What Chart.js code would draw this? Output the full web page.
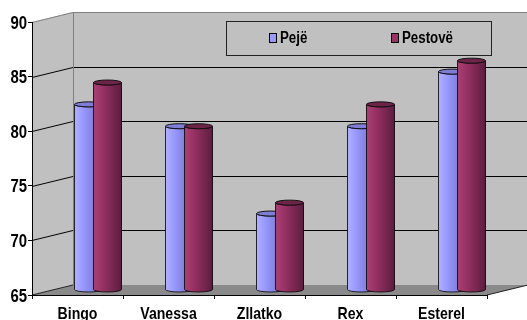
<!DOCTYPE html>
<html>
<head>
<meta charset="utf-8">
<script src="https://cdn.jsdelivr.net/npm/chart.js@4"></script>
<style>
  html, body { margin: 0; padding: 0; background: #fff; }
  #wrap { width: 527px; height: 320px; }
</style>
</head>
<body>
<div id="wrap"><canvas id="chart" width="527" height="320"></canvas></div>
<script>
// data
const dogs = ['Bingo', 'Vanessa', 'Zllatko', 'Rex', 'Esterel'];
const peje = [82, 80, 72, 80, 85];
const pestove = [84, 80, 73, 82, 86];
const seriesNames = ['Pejë', 'Pestovë'];
const yMin = 65, yMax = 90, yStep = 5;

// look of the 3d box
const WALL = '#c0c0c0';
const FLOOR = '#8a8a8a';
const EDGE = '#808080';
const DEPTH_X = 41, DEPTH_Y = -10;
const CAP_RY = 2.5;
const FONT = '"Liberation Sans", Arial, sans-serif';
const SQUEEZE = 0.83; // the reference text is tall and narrow
const shades = [
    {light: '#b0b0ff', mid: '#9999ff', dark: '#6c6cc0', cap: '#7e7ed6'},
    {light: '#a84273', mid: '#993366', dark: '#5c1d3e', cap: '#6e2449'}
];

const poly = (ctx, pts) => {
    ctx.beginPath();
    ctx.moveTo(pts[0][0], pts[0][1]);
    for (let i = 1; i < pts.length; i++) ctx.lineTo(pts[i][0], pts[i][1]);
    ctx.closePath();
};

const line = (ctx, pts, color) => {
    ctx.beginPath();
    ctx.moveTo(pts[0][0], pts[0][1]);
    for (let i = 1; i < pts.length; i++) ctx.lineTo(pts[i][0], pts[i][1]);
    ctx.strokeStyle = color;
    ctx.lineWidth = 1;
    ctx.stroke();
};

const drawText = (ctx, text, x, y, size, align) => {
    ctx.save();
    ctx.translate(x, y);
    ctx.scale(SQUEEZE, 1);
    ctx.font = `bold ${size}px ${FONT}`;
    ctx.textAlign = align;
    ctx.textBaseline = 'alphabetic';
    ctx.fillStyle = '#000';
    ctx.fillText(text, 0, 0);
    ctx.restore();
};

const drawCylinder = (ctx, cx, top, base, w, shade) => {
    const l = cx - w / 2, r = cx + w / 2, rx = w / 2;
    const g = ctx.createLinearGradient(l, 0, r, 0);
    g.addColorStop(0, shade.light);
    g.addColorStop(0.3, shade.mid);
    g.addColorStop(1, shade.dark);
    ctx.beginPath();
    ctx.moveTo(l, top);
    ctx.lineTo(l, base);
    ctx.ellipse(cx, base, rx, CAP_RY, 0, Math.PI, 0, true);
    ctx.lineTo(r, top);
    ctx.ellipse(cx, top, rx, CAP_RY, 0, 0, Math.PI, false);
    ctx.closePath();
    ctx.fillStyle = g;
    ctx.fill();
    ctx.strokeStyle = 'rgba(0,0,0,0.8)';
    ctx.lineWidth = 1;
    ctx.stroke();
    ctx.beginPath();
    ctx.ellipse(cx, top, rx, CAP_RY, 0, 0, Math.PI * 2);
    ctx.fillStyle = shade.cap;
    ctx.fill();
    ctx.strokeStyle = '#111';
    ctx.stroke();
};

const box3d = {
    id: 'box3d',
    beforeDraw(chart) {
        const {ctx, chartArea: a, scales: {y}} = chart;
        const dx = DEPTH_X, dy = DEPTH_Y;
        ctx.save();
        ctx.fillStyle = WALL;
        ctx.fillRect(a.left + dx, a.top + dy, a.width, a.height);
        poly(ctx, [[a.left, a.top], [a.left + dx, a.top + dy], [a.left + dx, a.bottom + dy], [a.left, a.bottom]]);
        ctx.fill();
        ctx.fillStyle = FLOOR;
        poly(ctx, [[a.left, a.bottom], [a.left + dx, a.bottom + dy], [a.right + dx, a.bottom + dy], [a.right, a.bottom]]);
        ctx.fill();
        y.ticks.forEach(t => {
            if (t.value <= yMin) return;
            const py = Math.round(y.getPixelForValue(t.value)) + 0.5;
            const c = t.value >= yMax ? EDGE : '#000';
            line(ctx, [[a.left, py], [a.left + dx, py + dy], [a.right + dx, py + dy]], c);
        });
        const bx = Math.round(a.left + dx) + 0.5;
        line(ctx, [[bx, a.top + dy], [bx, a.bottom + dy]], EDGE);
        line(ctx, [[a.left, a.bottom], [a.left + dx, a.bottom + dy]], '#222');
        line(ctx, [[a.right, a.bottom], [a.right + dx, a.bottom + dy]], '#222');
        ctx.restore();
    },
    beforeDatasetsDraw(chart) {
        chart.ctx.save();
        chart.ctx.translate(DEPTH_X / 2, DEPTH_Y / 2);
    },
    afterDatasetsDraw(chart) {
        const ctx = chart.ctx;
        chart.data.datasets.forEach((ds, i) => {
            chart.getDatasetMeta(i).data.forEach(bar => {
                const {x, y, base, width} = bar.getProps(['x', 'y', 'base', 'width'], true);
                drawCylinder(ctx, x, y, base, width, shades[i]);
            });
        });
        ctx.restore();
    },
    afterDraw(chart) {
        const {ctx, scales: {x, y}} = chart;
        // axis labels
        y.ticks.forEach((t, i) => drawText(ctx, t.label, y.right - 5, y.getPixelForTick(i) + 6.5, 18, 'right'));
        x.ticks.forEach((t, i) => drawText(ctx, t.label, x.getPixelForTick(i), x.top + 24, 17, 'center'));
        // legend box sitting on the wall
        ctx.save();
        ctx.strokeStyle = '#222';
        ctx.lineWidth = 1;
        ctx.strokeRect(226.5, 21.5, 265, 34);
        const xs = [269, 391];
        chart.data.datasets.forEach((ds, i) => {
            ctx.fillStyle = ds.backgroundColor;
            ctx.fillRect(xs[i] + 0.5, 33.5, 7, 9);
            ctx.strokeStyle = '#000';
            ctx.strokeRect(xs[i] + 0.5, 33.5, 7, 9);
            drawText(ctx, ds.label, xs[i] + 11, 43, 16, 'left');
        });
        ctx.restore();
    }
};

new Chart(document.getElementById('chart'), {
    type: 'bar',
    data: {
        labels: dogs,
        datasets: [
            {label: seriesNames[0], data: peje, backgroundColor: shades[0].mid},
            {label: seriesNames[1], data: pestove, backgroundColor: shades[1].mid}
        ]
    },
    options: {
        responsive: false,
        devicePixelRatio: 1,
        animation: false,
        events: [],
        layout: {padding: {left: 0, top: 22, right: 40, bottom: 0}},
        datasets: {bar: {categoryPercentage: 0.418, barPercentage: 1.47, borderWidth: 0, base: yMin}},
        plugins: {legend: {display: false}, tooltip: {enabled: false}},
        scales: {
            x: {
                grid: {offset: true, drawOnChartArea: false, tickLength: 4, color: '#000'},
                border: {color: '#000', width: 1},
                ticks: {display: false},
                afterFit: s => { s.height = 25; }
            },
            y: {
                min: yMin,
                max: yMax,
                grid: {drawOnChartArea: false, tickLength: 4, color: '#000'},
                border: {color: '#000', width: 1},
                ticks: {stepSize: yStep, display: false},
                afterFit: s => { s.width = 32; }
            }
        }
    },
    plugins: [box3d]
});
</script>
</body>
</html>
